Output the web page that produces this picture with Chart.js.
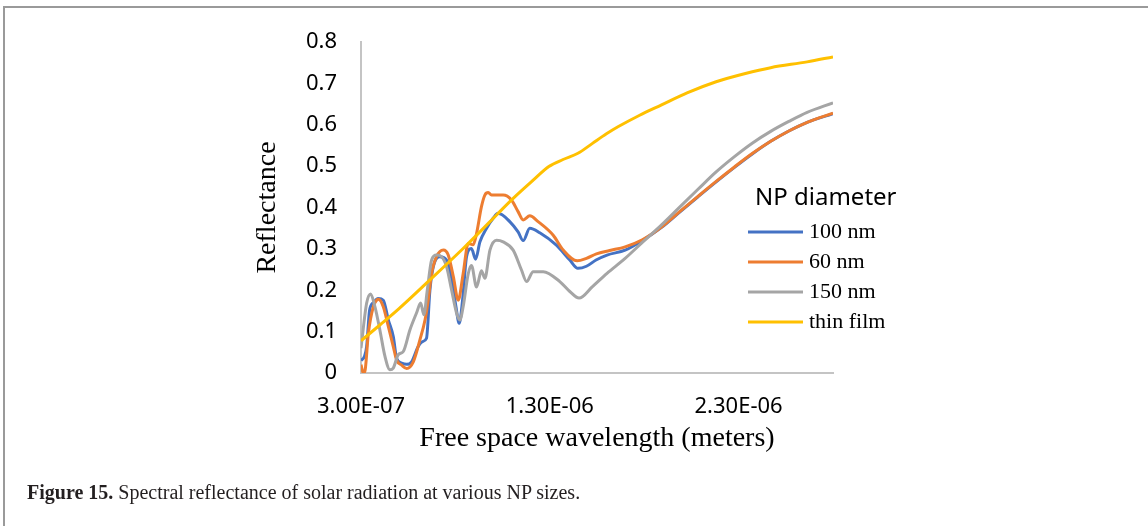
<!DOCTYPE html>
<html>
<head>
<meta charset="utf-8">
<title>Spectral reflectance</title>
<script src="https://cdn.jsdelivr.net/npm/chart.js@4.4.1/dist/chart.umd.min.js"></script>
<style>
  html, body { margin: 0; padding: 0; background: #fff; }
  body { width: 1148px; height: 526px; position: relative; overflow: hidden; }
  #frame {
    position: absolute; left: 3px; top: 6px; width: 1200px; height: 600px;
    border-top: 2px solid #9a9a9a; border-left: 2px solid #9a9a9a;
  }
  #chart { position: absolute; left: 0; top: 0; }
  #caption {
    position: absolute; left: 27px; top: 481px;
    font: 20px "Liberation Serif", serif; line-height: 22px; color: #231f20;
    white-space: nowrap;
  }
  #caption b { font-weight: bold; }
</style>
</head>
<body>
<div id="frame"></div>
<canvas id="chart" width="1148" height="526"></canvas>
<div id="caption"><b>Figure 15.</b> Spectral reflectance of solar radiation at various NP sizes.</div>

<script>
// wavelengths in micrometres, reflectance as a fraction
let wl100 = [0.300, 0.318, 0.330, 0.345, 0.365, 0.392, 0.418, 0.445, 0.471, 0.489, 0.515, 0.542, 0.568, 0.603, 0.626, 0.647, 0.665, 0.683, 0.718, 0.753, 0.780, 0.803, 0.820, 0.838, 0.859, 0.885, 0.907, 0.930, 0.965, 1.000, 1.026, 1.088, 1.132, 1.159, 1.194, 1.247, 1.335, 1.406, 1.449, 1.494, 1.545, 1.603, 1.699, 1.796, 1.892, 1.988, 2.085, 2.181, 2.278, 2.374, 2.470, 2.566, 2.663, 2.800];
let r100 = [0.030, 0.040, 0.064, 0.150, 0.170, 0.180, 0.176, 0.128, 0.088, 0.035, 0.024, 0.021, 0.027, 0.064, 0.076, 0.084, 0.200, 0.257, 0.281, 0.273, 0.229, 0.160, 0.120, 0.176, 0.281, 0.301, 0.275, 0.317, 0.350, 0.374, 0.386, 0.366, 0.341, 0.320, 0.350, 0.339, 0.309, 0.273, 0.253, 0.258, 0.273, 0.285, 0.297, 0.322, 0.352, 0.389, 0.426, 0.462, 0.497, 0.530, 0.560, 0.585, 0.606, 0.627];

let wl60 = [0.300, 0.312, 0.321, 0.339, 0.365, 0.383, 0.392, 0.418, 0.445, 0.471, 0.489, 0.515, 0.542, 0.577, 0.612, 0.639, 0.656, 0.674, 0.700, 0.736, 0.762, 0.789, 0.815, 0.841, 0.868, 0.894, 0.912, 0.938, 0.956, 0.974, 0.991, 1.053, 1.097, 1.132, 1.159, 1.194, 1.238, 1.318, 1.371, 1.445, 1.494, 1.547, 1.617, 1.699, 1.790, 1.892, 1.988, 2.085, 2.181, 2.278, 2.374, 2.470, 2.566, 2.663, 2.800];
let r60 = [0.020, 0.000, 0.005, 0.096, 0.160, 0.176, 0.178, 0.160, 0.112, 0.064, 0.031, 0.019, 0.011, 0.027, 0.080, 0.128, 0.176, 0.240, 0.281, 0.297, 0.285, 0.233, 0.176, 0.240, 0.313, 0.310, 0.337, 0.402, 0.430, 0.436, 0.430, 0.430, 0.418, 0.390, 0.370, 0.380, 0.366, 0.333, 0.297, 0.271, 0.277, 0.288, 0.296, 0.305, 0.322, 0.353, 0.390, 0.427, 0.463, 0.498, 0.531, 0.560, 0.585, 0.606, 0.628];

let wl150 = [0.300, 0.330, 0.351, 0.374, 0.400, 0.427, 0.453, 0.471, 0.497, 0.524, 0.559, 0.594, 0.616, 0.633, 0.651, 0.674, 0.700, 0.727, 0.753, 0.780, 0.806, 0.824, 0.841, 0.868, 0.885, 0.912, 0.938, 0.956, 0.983, 1.018, 1.053, 1.106, 1.150, 1.177, 1.212, 1.265, 1.353, 1.406, 1.455, 1.526, 1.603, 1.699, 1.796, 1.892, 1.988, 2.085, 2.181, 2.278, 2.374, 2.470, 2.566, 2.663, 2.800];
let r150 = [0.060, 0.169, 0.191, 0.160, 0.104, 0.040, 0.008, 0.012, 0.044, 0.052, 0.104, 0.145, 0.169, 0.141, 0.200, 0.273, 0.285, 0.281, 0.257, 0.200, 0.145, 0.128, 0.160, 0.240, 0.260, 0.208, 0.247, 0.229, 0.297, 0.321, 0.317, 0.297, 0.249, 0.221, 0.245, 0.245, 0.221, 0.197, 0.181, 0.209, 0.241, 0.277, 0.318, 0.358, 0.401, 0.444, 0.486, 0.523, 0.556, 0.584, 0.608, 0.630, 0.653];

let wlFilm = [0.300, 0.400, 0.500, 0.665, 0.841, 0.930, 1.018, 1.106, 1.212, 1.295, 1.370, 1.449, 1.526, 1.600, 1.661, 1.776, 1.892, 2.027, 2.181, 2.336, 2.470, 2.663, 2.800];
let rFilm = [0.078, 0.116, 0.155, 0.225, 0.301, 0.341, 0.382, 0.422, 0.466, 0.499, 0.516, 0.531, 0.555, 0.578, 0.595, 0.623, 0.648, 0.677, 0.704, 0.724, 0.738, 0.752, 0.764];

let seriesNames = ["100 nm", "60 nm", "150 nm", "thin film"];
let seriesColors = ["#4472C4", "#ED7D31", "#A5A5A5", "#FFC000"];
let xTickValues = [3.0e-7, 1.3e-6, 2.3e-6];
let legendTitle = "NP diameter";

function toPoints(wl, r) {
    return wl.map(function (w, i) {
        return { x: w * 1e-6, y: r[i] };
    });
}

// 1.3e-6 -> "1.30E-06"
function sci(v) {
    let parts = v.toExponential(2).split("e");
    let e = parseInt(parts[1]);
    let sign = e < 0 ? "-" : "+";
    return parts[0] + "E" + sign + String(Math.abs(e)).padStart(2, "0");
}

let series = [toPoints(wl100, r100), toPoints(wl60, r60), toPoints(wl150, r150), toPoints(wlFilm, rFilm)];

// Legend drawn inside the plot area, right side
let legendBox = {
    id: "legendBox",
    afterDraw(chart) {
        let ctx = chart.ctx;
        let area = chart.chartArea;
        let x0 = area.right - 85;
        let y0 = area.top;
        ctx.save();
        ctx.fillStyle = "#000";
        ctx.font = '24px "Noto Sans"';
        ctx.textBaseline = "alphabetic";
        ctx.fillText(legendTitle, x0 + 7, y0 + 163);

        ctx.font = '22px "Liberation Serif"';
        ctx.textBaseline = "middle";
        chart.data.datasets.forEach(function (ds, i) {
            let y = y0 + 190 + i * 30;
            ctx.strokeStyle = ds.borderColor;
            ctx.lineWidth = 3;
            ctx.beginPath();
            ctx.moveTo(x0, y);
            ctx.lineTo(x0 + 55, y);
            ctx.stroke();
            ctx.fillStyle = "#000";
            ctx.fillText(ds.label, x0 + 61, y);
        });
        ctx.restore();
    }
};

let datasets = series.map(function (pts, i) {
    return {
        label: seriesNames[i],
        data: pts,
        borderColor: seriesColors[i],
        backgroundColor: seriesColors[i],
        borderWidth: 3,
        pointRadius: 0,
        fill: false,
        tension: 0.4,
        cubicInterpolationMode: "monotone",
        order: series.length - 1 - i
    };
});

let ctx = document.getElementById("chart").getContext("2d");

let chart = new Chart(ctx, {
    type: "line",
    data: { datasets: datasets },
    options: {
        responsive: false,
        animation: false,
        devicePixelRatio: 1,
        layout: { padding: { left: 250, right: 315, top: 42, bottom: 63 } },
        plugins: {
            legend: { display: false },
            tooltip: { enabled: false }
        },
        scales: {
            x: {
                type: "linear",
                min: 3.0e-7,
                max: 2.8e-6,
                grid: { display: false, drawTicks: false },
                border: { display: true, color: "#c4c4c4", width: 2 },
                afterBuildTicks: function (scale) {
                    scale.ticks = xTickValues.map(function (v) { return { value: v }; });
                },
                afterFit: function (scale) { scale.height = 90; },
                ticks: {
                    autoSkip: false,
                    maxRotation: 0,
                    padding: 21,
                    color: "#000",
                    font: { family: "Noto Sans", size: 22 },
                    callback: function (v) { return sci(v); }
                },
                title: {
                    display: true,
                    text: "Free space wavelength (meters)",
                    color: "#000",
                    font: { family: "Liberation Serif", size: 28 },
                    align: "center",
                    padding: { top: 0, bottom: 8 }
                }
            },
            y: {
                min: 0,
                max: 0.8,
                grid: { display: false, drawTicks: false },
                border: { display: true, color: "#c4c4c4", width: 2 },
                afterFit: function (scale) { scale.width = 111; },
                ticks: {
                    stepSize: 0.1,
                    padding: 24,
                    color: "#000",
                    font: { family: "Noto Sans", size: 22 },
                    callback: function (v) { return String(Math.round(v * 10) / 10); }
                },
                title: {
                    display: true,
                    text: "Reflectance",
                    color: "#000",
                    font: { family: "Liberation Serif", size: 28 },
                    padding: { top: 1, bottom: 0 }
                }
            }
        }
    },
    plugins: [legendBox]
});
</script>
</body>
</html>
